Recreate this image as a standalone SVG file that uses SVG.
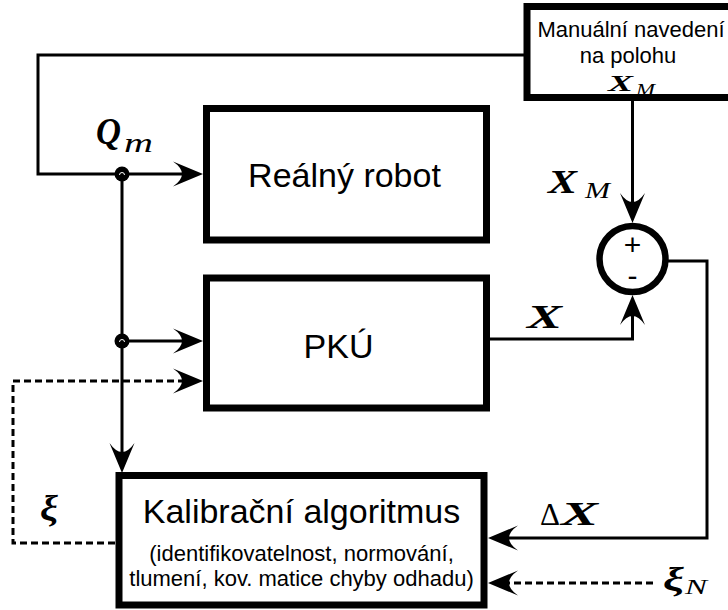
<svg xmlns="http://www.w3.org/2000/svg" width="728" height="610" viewBox="0 0 728 610">
<style>
.box{fill:#fff;stroke:#000;stroke-width:7}
.ln{fill:none;stroke:#000;stroke-width:3}
.dash{fill:none;stroke:#000;stroke-width:3;stroke-dasharray:7 4}
.t{font-family:"Liberation Sans",Arial,sans-serif;fill:#000}
.m{font-family:"Liberation Serif","Times New Roman",serif;font-style:italic;fill:#000}
.mb{font-family:"Liberation Serif","Times New Roman",serif;font-style:italic;font-weight:bold;fill:#000}
.mr{font-family:"Liberation Serif","Times New Roman",serif;fill:#000}
</style>
<defs>
<marker id="ah" viewBox="-22 -14 34 28" refX="0" refY="0" markerWidth="34" markerHeight="28" markerUnits="userSpaceOnUse" orient="auto">
<path d="M10,0 L-20,-12.5 Q-2,0 -20,12.5 Z" fill="#000"/>
</marker>
</defs>
<rect width="728" height="610" fill="#fff"/>
<g id="connectors">
<path class="ln" d="M524,55 H38 V174 H193" marker-end="url(#ah)"/>
<path class="ln" d="M122,174 V463" marker-end="url(#ah)"/>
<path class="ln" d="M122,341 H193" marker-end="url(#ah)"/>
<path class="ln" d="M632.5,101 V213" marker-end="url(#ah)"/>
<path class="ln" d="M490,339 H632.5 V305" marker-end="url(#ah)"/>
<path class="ln" d="M668,261 H707 V538 H498" marker-end="url(#ah)"/>
<path class="dash" d="M653,583 H498" marker-end="url(#ah)"/>
<path class="dash" d="M115,543 H13 V381 H193" marker-end="url(#ah)"/>
<circle cx="122" cy="174" r="7.5" fill="#000"/>
<path d="M119.5,175 a2.5,2.5 0 0 1 5,0" fill="none" stroke="#fff" stroke-width="1"/>
<circle cx="122" cy="341" r="7.5" fill="#000"/>
<path d="M119.5,342 a2.5,2.5 0 0 1 5,0" fill="none" stroke="#fff" stroke-width="1"/>
</g>
<g id="manual">
<rect class="box" x="527" y="6.5" width="205" height="91"/>
<text class="t" x="631" y="37" font-size="22" text-anchor="middle">Manuální navedení</text>
<text class="t" x="628" y="63" font-size="22" text-anchor="middle">na polohu</text>
<text class="mb" x="608" y="90.5" font-size="23" textLength="25" lengthAdjust="spacingAndGlyphs">X</text>
<text class="m" x="636" y="95" font-size="16" textLength="19" lengthAdjust="spacingAndGlyphs">M</text>
</g>
<g id="robot">
<rect class="box" x="206.5" y="108.5" width="280" height="131.5"/>
<text class="t" x="344.5" y="187" font-size="34" text-anchor="middle">Reálný robot</text>
</g>
<g id="pku">
<rect class="box" x="206.5" y="278" width="280" height="130"/>
<text class="t" x="338.5" y="358" font-size="34" text-anchor="middle">PKÚ</text>
</g>
<g id="sum">
<circle cx="632.5" cy="259" r="33" fill="#fff" stroke="#000" stroke-width="6.5"/>
<text class="t" x="632.5" y="255" font-size="30" text-anchor="middle">+</text>
<text class="t" x="632.5" y="286" font-size="30" text-anchor="middle">-</text>
</g>
<g id="kalib">
<rect class="box" x="119" y="475.5" width="365" height="129.5"/>
<text class="t" x="301.5" y="523" font-size="34" text-anchor="middle">Kalibrační algoritmus</text>
<text class="t" x="301.5" y="561" font-size="22" text-anchor="middle">(identifikovatelnost, normování,</text>
<text class="t" x="301.5" y="586" font-size="22" text-anchor="middle">tlumení, kov. matice chyby odhadu)</text>
</g>
<g id="labels">
<text class="mb" x="96" y="144" font-size="38" textLength="25" lengthAdjust="spacingAndGlyphs">Q</text>
<text class="m" x="124" y="152" font-size="28" textLength="29" lengthAdjust="spacingAndGlyphs">m</text>
<text class="mb" x="548" y="193" font-size="34" textLength="29" lengthAdjust="spacingAndGlyphs">X</text>
<text class="m" x="585" y="198" font-size="24" textLength="25" lengthAdjust="spacingAndGlyphs">M</text>
<text class="mb" x="527" y="328" font-size="34" textLength="35" lengthAdjust="spacingAndGlyphs">X</text>
<text class="mr" x="540" y="525" font-size="32" textLength="20" lengthAdjust="spacingAndGlyphs">Δ</text>
<text class="mb" x="561" y="525" font-size="34" textLength="37" lengthAdjust="spacingAndGlyphs">X</text>
<text class="mb" x="40" y="520" font-size="36" textLength="18" lengthAdjust="spacingAndGlyphs">ξ</text>
<text class="mb" x="663" y="591" font-size="34" textLength="21" lengthAdjust="spacingAndGlyphs">ξ</text>
<text class="m" x="685" y="594" font-size="20" textLength="22" lengthAdjust="spacingAndGlyphs">N</text>
</g>
</svg>
